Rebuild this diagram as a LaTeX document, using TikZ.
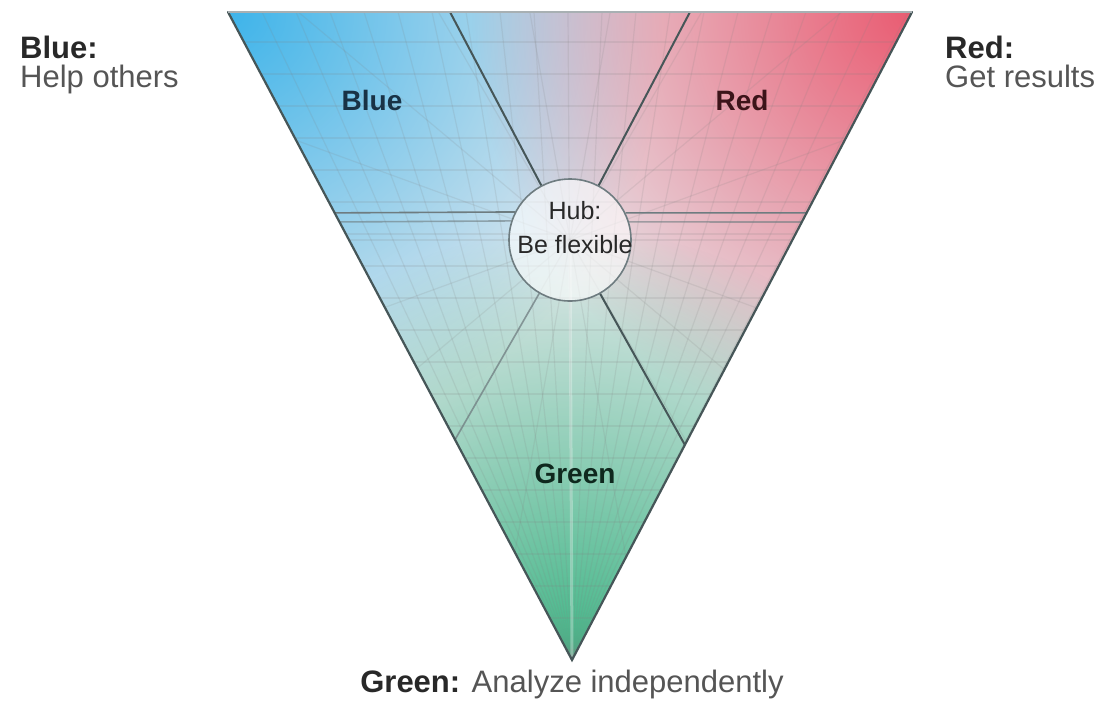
\documentclass[tikz,border=0pt]{standalone}
\usepackage{fontspec}
\setmainfont{Liberation Sans}
\usetikzlibrary{fadings,calc}
\definecolor{blueC}{RGB}{62,180,234}
\definecolor{redC}{RGB}{234,92,114}
\definecolor{greenC}{RGB}{64,182,134}
\definecolor{baseC}{RGB}{230,233,237}
\definecolor{edgeC}{RGB}{70,86,88}
\definecolor{lineC}{RGB}{110,124,128}
\definecolor{txtC}{RGB}{85,85,85}
\definecolor{boldC}{RGB}{40,40,40}
\tikzfading[name=cornerfade, inner color=transparent!0, outer color=transparent!100]
\tikzset{
  edge/.style={draw=edgeC, line width=2.2pt, line cap=round},
  divider/.style={draw=edgeC, line width=2pt},
  softdiv/.style={draw=lineC, line width=1.6pt},
  gridline/.style={draw=gray, line width=1.2pt, opacity=0.15},
  outlabel/.style={font=\fontsize{31}{29}\selectfont, text=txtC, inner sep=0pt, align=left},
  inlabel/.style={font=\fontsize{28}{30}\selectfont\bfseries, inner sep=0pt},
  hubtext/.style={font=\fontsize{25}{34}\selectfont, text=boldC, inner sep=0pt, align=center}
}
\begin{document}
\begin{tikzpicture}[x=1pt,y=-1pt]
\useasboundingbox (0,0) rectangle (1118,702);
\coordinate (A) at (228,12);
\coordinate (B) at (912,12);
\coordinate (C) at (572,660);
\coordinate (O) at (570,240);
\coordinate (P1) at (450,12);
\coordinate (P2) at (690,12);
\coordinate (L1) at ($(A)!0.31!(C)$);
\coordinate (L1b) at ($(A)!0.324!(C)$);
\coordinate (R1) at ($(B)!0.31!(C)$);
\coordinate (R1b) at ($(B)!0.324!(C)$);
\coordinate (LL) at ($(A)!0.66!(C)$);
\coordinate (LR) at ($(B)!0.668!(C)$);
% fills
\begin{scope}
  \clip (A) -- (B) -- (C) -- cycle;
  \fill[baseC] (A) -- (B) -- (C) -- cycle;
  \fill[blueC, path fading=cornerfade] (A) circle (440);
  \fill[redC, path fading=cornerfade] (B) circle (440);
  \fill[greenC, path fading=cornerfade] (C) circle (430);
  \foreach \yy in {42,74,...,650} \draw[gridline] (0,\yy) -- (1118,\yy);
  \foreach \xx in {228,262,...,912} \draw[gridline] (C) -- (\xx,12);
  \foreach \aa in {0,20,...,340} \draw[gridline] (O) -- ++(\aa:700);
  \draw[white, line width=3pt, opacity=0.3] (O) -- (C);
\end{scope}
% hub
\node[circle, minimum size=122pt, inner sep=0pt, draw=lineC, line width=1.6pt, fill=white, fill opacity=0.6] (hub) at (O) {};
% dividers
\draw[divider] (P1) -- (hub);
\draw[divider] (P2) -- (hub);
\draw[softdiv] (L1) -- (hub.153.3);
\draw[softdiv, opacity=0.6] (L1b) -- (hub.162.5);
\draw[softdiv] (R1) -- (hub.26.7);
\draw[softdiv, opacity=0.6] (R1b) -- (hub.17.5);
\draw[divider] (hub) -- (LR);
\draw[softdiv, opacity=0.7] (hub) -- (LL);
% edges
\draw[edge] (A) -- (C) -- (B);
\draw[draw=lineC!60, line width=1.5pt] (A) -- (B);
% inner labels
\node[inlabel, text={rgb,255:red,25;green,50;blue,70}, anchor=base] (lblue) at (372,110) {Blue};
\node[inlabel, text={rgb,255:red,60;green,20;blue,25}, anchor=base] (lred) at (742,110) {Red};
\node[inlabel, text={rgb,255:red,15;green,40;blue,30}, anchor=base] (lgreen) at (575,483) {Green};
\node[hubtext] (hubtxt) at (575,228) {Hub:\\Be flexible};
% outer labels
\node[outlabel, anchor=north west] (ob) at (20,36) {\textbf{\color{boldC}Blue:}\\Help others};
\node[outlabel, anchor=north west] (orr) at (945,36) {\textbf{\color{boldC}Red:}\\Get results};
\node[outlabel, anchor=base] (og) at (572,692) {\textbf{\color{boldC}Green:} Analyze independently};
\end{tikzpicture}
\end{document}
